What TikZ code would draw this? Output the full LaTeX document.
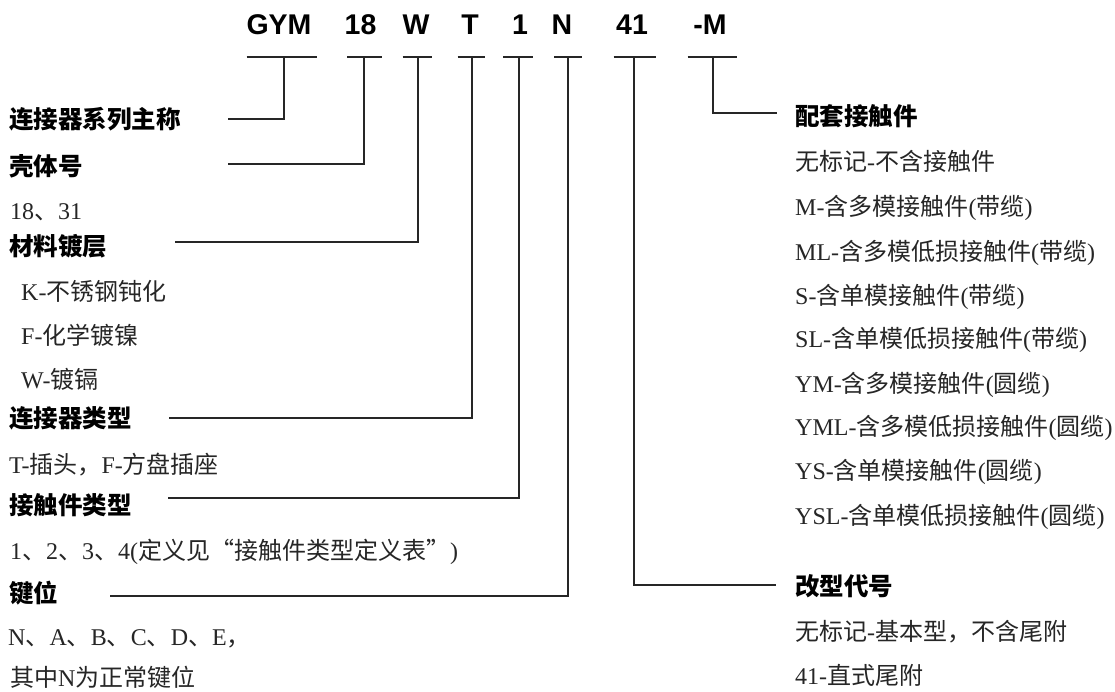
\documentclass[tikz,border=0pt]{standalone}
\usepackage{fontspec}
\newfontfamily\zhfont{Noto Sans CJK SC}
\newfontfamily\hdrfont{Liberation Sans}
\newfontfamily\latfont{Liberation Serif}
\newcommand\zh[1]{{\zhfont #1}}
\tikzset{
  hdr/.style={font=\hdrfont\bfseries\fontsize{28.5}{30}\selectfont, anchor=base, inner sep=0pt},
  head/.style={font=\zhfont\bfseries\fontsize{24.5}{26}\selectfont, anchor=base west, inner sep=0pt, text=black},
  body/.style={font=\latfont\fontsize{24}{26}\selectfont, anchor=base west, inner sep=0pt, text=black!85},
  wire/.style={line width=2pt, draw=black!85, line cap=butt},
}
\begin{document}
\begin{tikzpicture}[x=1pt,y=-1pt]
\useasboundingbox[fill=white] (0,0) rectangle (1115,691);

% header code letters
\node[hdr] (hGYM) at (279,34.3) {GYM};
\node[hdr] (h18)  at (360.5,34.3) {18};
\node[hdr] (hW)   at (416,34.3) {W};
\node[hdr] (hT)   at (470,34.3) {T};
\node[hdr] (h1)   at (520,34.3) {1};
\node[hdr] (hN)   at (562,34.3) {N};
\node[hdr] (h41)  at (632,34.3) {41};
\node[hdr] (hM)   at (710,34.3) {-M};

% bar end points and drop points
\coordinate (bGYMl) at (246.7,57.3); \coordinate (bGYMr) at (317.3,57.3); \coordinate (bGYM) at (284.3,57.3);
\coordinate (b18l) at (347.3,57.3);  \coordinate (b18r) at (381.7,57.3);  \coordinate (b18) at (364.3,57.3);
\coordinate (bWl) at (402.7,57.3);   \coordinate (bWr) at (431.7,57.3);   \coordinate (bW) at (418.3,57.3);
\coordinate (bTl) at (457.7,57.3);   \coordinate (bTr) at (485,57.3);     \coordinate (bT) at (471.7,57.3);
\coordinate (b1l) at (503.4,57.3);   \coordinate (b1r) at (533,57.3);     \coordinate (b1) at (519.3,57.3);
\coordinate (bNl) at (554,57.3);     \coordinate (bNr) at (582.2,57.3);   \coordinate (bN) at (568.1,57.3);
\coordinate (b41l) at (613.6,57.3);  \coordinate (b41r) at (656.2,57.3);  \coordinate (b41) at (634,57.3);
\coordinate (bMl) at (687.6,57.3);   \coordinate (bMr) at (737.2,57.3);   \coordinate (bM) at (713.1,57.3);

% left column
\node[head] (lSeries) at (9,128) {连接器系列主称};
\node[head] (lShell)  at (9,175) {壳体号};
\node[body] (lShellv) at (10,219) {18\zh{、}31};
\node[head] (lMat)    at (9,255.5) {材料镀层};
\node[body] (lMatK)   at (21,300.5) {K-\zh{不锈钢钝化}};
\node[body] (lMatF)   at (21,344) {F-\zh{化学镀镍}};
\node[body] (lMatW)   at (21,388) {W-\zh{镀镉}};
\node[head] (lType)   at (9,427) {连接器类型};
\node[body] (lTypev)  at (9,473) {T-\zh{插头，}F-\zh{方盘插座}};
\node[head] (lCont)   at (9,514) {接触件类型};
\node[body] (lContv)  at (10,559) {1\zh{、}2\zh{、}3\zh{、}4(\zh{定义见“接触件类型定义表”})};
\node[head] (lKey)    at (9,602) {键位};
\node[body] (lKeyv)   at (8,645.5) {N\zh{、}A\zh{、}B\zh{、}C\zh{、}D\zh{、}E\zh{，}};
\node[body] (lKeyw)   at (10,686) {\zh{其中}N\zh{为正常键位}};

% right column
\node[head] (rMate)  at (795,125.5) {配套接触件};
\node[body] (rM0)    at (795,170.5) {\zh{无标记}-\zh{不含接触件}};
\node[body] (rM1)    at (795,215.5) {M-\zh{含多模接触件}(\zh{带缆})};
\node[body] (rM2)    at (795,260) {ML-\zh{含多模低损接触件}(\zh{带缆})};
\node[body] (rM3)    at (795,304) {S-\zh{含单模接触件}(\zh{带缆})};
\node[body] (rM4)    at (795,347.5) {SL-\zh{含单模低损接触件}(\zh{带缆})};
\node[body] (rM5)    at (795,392) {YM-\zh{含多模接触件}(\zh{圆缆})};
\node[body] (rM6)    at (795,435.5) {YML-\zh{含多模低损接触件}(\zh{圆缆})};
\node[body] (rM7)    at (795,479.5) {YS-\zh{含单模接触件}(\zh{圆缆})};
\node[body] (rM8)    at (795,524) {YSL-\zh{含单模低损接触件}(\zh{圆缆})};
\node[head] (rMod)   at (795,595.5) {改型代号};
\node[body] (rMod0)  at (795,640.5) {\zh{无标记}-\zh{基本型，不含尾附}};
\node[body] (rMod1)  at (795,684) {41-\zh{直式尾附}};

% connector free ends
\coordinate (eSeries) at (228,119.3);
\coordinate (eShell)  at (228,164);
\coordinate (eMat)    at (175,242.3);
\coordinate (eType)   at (168.6,418.3);
\coordinate (eCont)   at (168,498.3);
\coordinate (eKey)    at (110,596);
\coordinate (eMod)    at (776,585);
\coordinate (eMate)   at (776.7,113.3);

% bars
\foreach \b in {GYM,18,W,T,1,N,41,M}
  \draw[wire] (b\b l) -- (b\b r);

% leaders
\draw[wire] (bGYM) |- (eSeries);
\draw[wire] (b18)  |- (eShell);
\draw[wire] (bW)   |- (eMat);
\draw[wire] (bT)   |- (eType);
\draw[wire] (b1)   |- (eCont);
\draw[wire] (bN)   |- (eKey);
\draw[wire] (b41)  |- (eMod);
\draw[wire] (bM)   |- (eMate);
\end{tikzpicture}
\end{document}
